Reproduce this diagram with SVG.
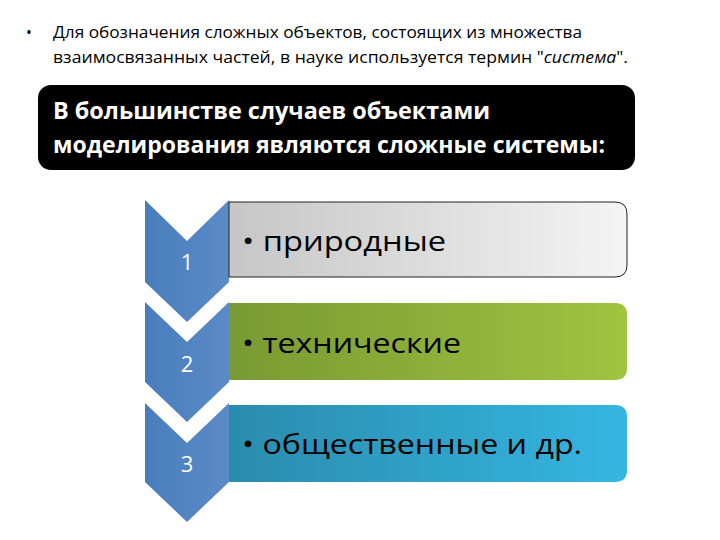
<svg xmlns="http://www.w3.org/2000/svg" width="720" height="540" viewBox="0 0 720 540">
<style>
.top{font-family:"Open Sans","Noto Sans",sans-serif;font-size:15.5px;fill:#000}
.hd{font-family:"Open Sans","Noto Sans",sans-serif;font-size:22.5px;font-weight:bold;fill:#fff}
.num{font-family:"Open Sans","Noto Sans",sans-serif;font-size:22px;fill:#fff;text-anchor:middle}
.lbl{font-family:"Open Sans","Noto Sans",sans-serif;font-size:28px;fill:#000}
.chev{fill:url(#gBlue)}
</style>
<defs>
<linearGradient id="gBlue" x1="0" y1="0" x2="1" y2="0"><stop offset="0" stop-color="#4a7dbc"/><stop offset="1" stop-color="#5a8bc7"/></linearGradient>
<linearGradient id="gGrey" x1="0" y1="0" x2="1" y2="0"><stop offset="0" stop-color="#c6c6c6"/><stop offset="1" stop-color="#f4f4f4"/></linearGradient>
<linearGradient id="gGreen" x1="0" y1="0" x2="1" y2="0"><stop offset="0" stop-color="#789a33"/><stop offset="1" stop-color="#9fc43f"/></linearGradient>
<linearGradient id="gCyan" x1="0" y1="0" x2="1" y2="0"><stop offset="0" stop-color="#2a8cac"/><stop offset="1" stop-color="#35b6e2"/></linearGradient>
</defs>
<rect width="720" height="540" fill="#fff"/>
<g id="intro">
<text class="top" x="26" y="38">•</text>
<text class="top" x="53" y="38" textLength="529" lengthAdjust="spacingAndGlyphs">Для обозначения сложных объектов, состоящих из множества</text>
<text class="top" x="53" y="63" textLength="575" lengthAdjust="spacingAndGlyphs">взаимосвязанных частей, в науке используется термин "<tspan font-style="italic">система</tspan>".</text>
</g>
<g id="header">
<rect x="38" y="85" width="597" height="85" rx="13" fill="#000"/>
<text class="hd" x="53" y="119" textLength="437" lengthAdjust="spacingAndGlyphs">В большинстве случаев объектами</text>
<text class="hd" x="53" y="153" textLength="552" lengthAdjust="spacingAndGlyphs">моделирования являются сложные системы:</text>
</g>
<g id="step1">
<path class="chev" d="M145 200 L187 241 L229 200 L229 282 L187 322 L145 282 Z"/>
<text class="num" x="187" y="270">1</text>
<path d="M229 202 H615 Q627 202 627 214 V265 Q627 277 615 277 H229 Z" fill="url(#gGrey)" stroke="#222" stroke-width="1"/>
<text class="lbl" x="242" y="251" textLength="204" lengthAdjust="spacingAndGlyphs">• природные</text>
</g>
<g id="step2">
<path class="chev" d="M145 302 L187 342 L229 302 L229 382 L187 422 L145 382 Z"/>
<text class="num" x="187" y="372">2</text>
<path d="M229 303 H615 Q627 303 627 315 V368 Q627 380 615 380 H229 Z" fill="url(#gGreen)"/>
<text class="lbl" x="242" y="353" textLength="219" lengthAdjust="spacingAndGlyphs">• технические</text>
</g>
<g id="step3">
<path class="chev" d="M145 403 L187 443 L229 403 L229 482 L187 522 L145 482 Z"/>
<text class="num" x="187" y="472">3</text>
<path d="M229 405 H615 Q627 405 627 417 V470 Q627 482 615 482 H229 Z" fill="url(#gCyan)"/>
<text class="lbl" x="242" y="454" textLength="340" lengthAdjust="spacingAndGlyphs">• общественные и др.</text>
</g>
</svg>
